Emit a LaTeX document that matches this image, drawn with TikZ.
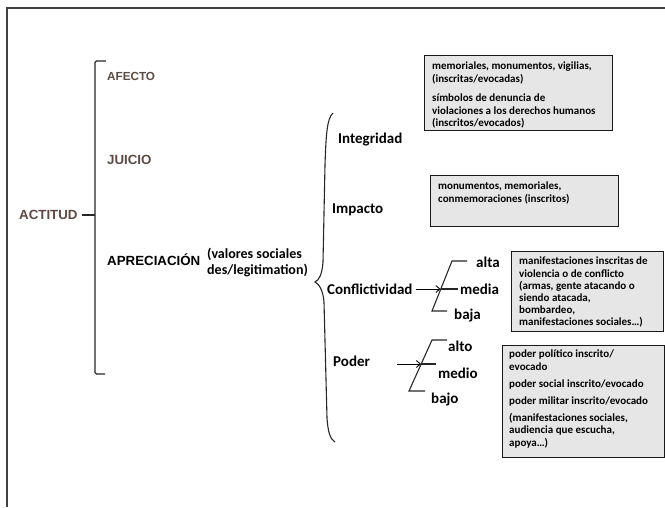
\documentclass[tikz,border=0pt]{standalone}
\usepackage{fontspec}
\setmainfont{Carlito}
\newfontfamily\arialfont{Liberation Sans}
\usetikzlibrary{arrows.meta,shadows}
\definecolor{brownt}{HTML}{5C4A42}
\definecolor{boxgray}{HTML}{E6E6E6}
\begin{document}
\begin{tikzpicture}[x=1pt,y=-1pt,
  lbl/.style={anchor=west,inner sep=0pt,font=\fontsize{15}{18}\selectfont\bfseries},
  capst/.style={anchor=west,inner sep=0pt,font=\arialfont\fontsize{13.3}{16}\selectfont\bfseries},
  subst/.style={anchor=west,inner sep=0pt,font=\fontsize{14}{16}\selectfont\bfseries},
  boxst/.style={draw=black!90,line width=1.1pt,fill=boxgray,anchor=north west,inner sep=0pt,
     drop shadow={shadow xshift=0.8pt,shadow yshift=-0.8pt,fill=black!75,opacity=1}},
  btxt/.style={anchor=north west,inner sep=0pt,align=left,font=\fontsize{11}{12.6}\selectfont\bfseries},
  brk/.style={line width=1.1pt,black!85},
  arr/.style={-{Straight Barb[length=4pt,width=7pt]},line width=0.9pt,black}
]
\useasboundingbox (0,0) rectangle (665,507);
% frame
\draw[line width=1.1pt,black!75] (7,507) -- (7,8) -- (665,8);

% left bracket
\draw[brk,rounded corners=1.5pt] (106,61) -- (95,61) -- (95,374) -- (105,374);
\node[capst,text=brownt] (actitud) at (19,215) {ACTITUD};
\coordinate (brkmid) at (95,215);
\draw[brk,line width=1.4pt] ([xshift=4pt]actitud.east) -- (brkmid);

\node[capst,text=brownt,font=\arialfont\fontsize{11.7}{14}\selectfont\bfseries] (afecto) at (107,76) {AFECTO};
\node[capst,text=brownt] (juicio) at (107,160) {JUICIO};
\node[capst] (apre) at (107,260) {APRECIACIÓN};
\node[subst,align=left] (valores) at (207,262) {(valores sociales\\des/legitimation)};

% second brace
\draw[brk] (333,113) .. controls (327,118) and (326,135) .. (325,165)
  -- (323,262) .. controls (322,275) and (319,280) .. (315,282)
  .. controls (319,284) and (323,290) .. (324,302)
  -- (327,418) .. controls (328,432) and (330,439) .. (335,442);

\node[lbl] (integ) at (338,140) {Integridad};
\node[lbl] (impacto) at (332,210) {Impacto};
\node[lbl] (conf) at (327,289) {Conflictividad};
\node[lbl] (poder) at (333,361) {Poder};

% Conflictividad fork
\coordinate (ctop) at (452,261);
\coordinate (cbot) at (432,311);
\coordinate (ctip) at (440.5,289);
\coordinate (cmed) at (458,289);
\draw[brk] (467,261) -- (ctop) -- (cbot) -- (447,311);
\draw[arr] ([xshift=3pt]conf.east) -- (ctip);
\draw[brk] (ctip) -- (cmed);
\node[lbl] (alta) at (476,262) {alta};
\node[lbl] (media) at (460,289) {media};
\node[lbl] (baja) at (454,315) {baja};

% Poder fork
\coordinate (ptop) at (432,340);
\coordinate (pbot) at (409,391);
\coordinate (pstart) at (397,364);
\coordinate (ptip) at (421,364);
\coordinate (pmed) at (436,364);
\draw[brk] (447,340) -- (ptop) -- (pbot) -- (425,391);
\draw[arr] (pstart) -- (ptip);
\draw[brk] (ptip) -- (pmed);
\node[lbl] (alto) at (448,346) {alto};
\node[lbl] (medio) at (438,373) {medio};
\node[lbl] (bajo) at (431,399) {bajo};

% boxes
\node[boxst,minimum width=188pt,minimum height=75pt] (b1) at (424,55) {};
\node[btxt] (t1) at (432,61.5) {memoriales, monumentos, vigilias,\\(inscritas/evocadas)\\[7pt]símbolos de denuncia de\\violaciones a los derechos humanos\\(inscritos/evocados)};

\node[boxst,minimum width=188pt,minimum height=51pt] (b2) at (430,175) {};
\node[btxt] (t2) at (438,182) {monumentos, memoriales,\\conmemoraciones (inscritos)};

\node[boxst,minimum width=152pt,minimum height=80pt] (b3) at (511,250.5) {};
\node[btxt,font=\fontsize{11}{12.2}\selectfont\bfseries] (t3) at (519,257) {manifestaciones inscritas de\\violencia o de conflicto\\(armas, gente atacando o\\siendo atacada,\\bombardeo,\\manifestaciones sociales…)};

\node[boxst,minimum width=162pt,minimum height=112pt] (b4) at (502,345) {};
\node[btxt] (t4) at (509,349.5) {poder político inscrito/\\evocado\\[4.5pt]poder social inscrito/evocado\\[4.5pt]poder militar inscrito/evocado\\[4.5pt](manifestaciones sociales,\\audiencia que escucha,\\apoya…)};
\end{tikzpicture}
\end{document}
